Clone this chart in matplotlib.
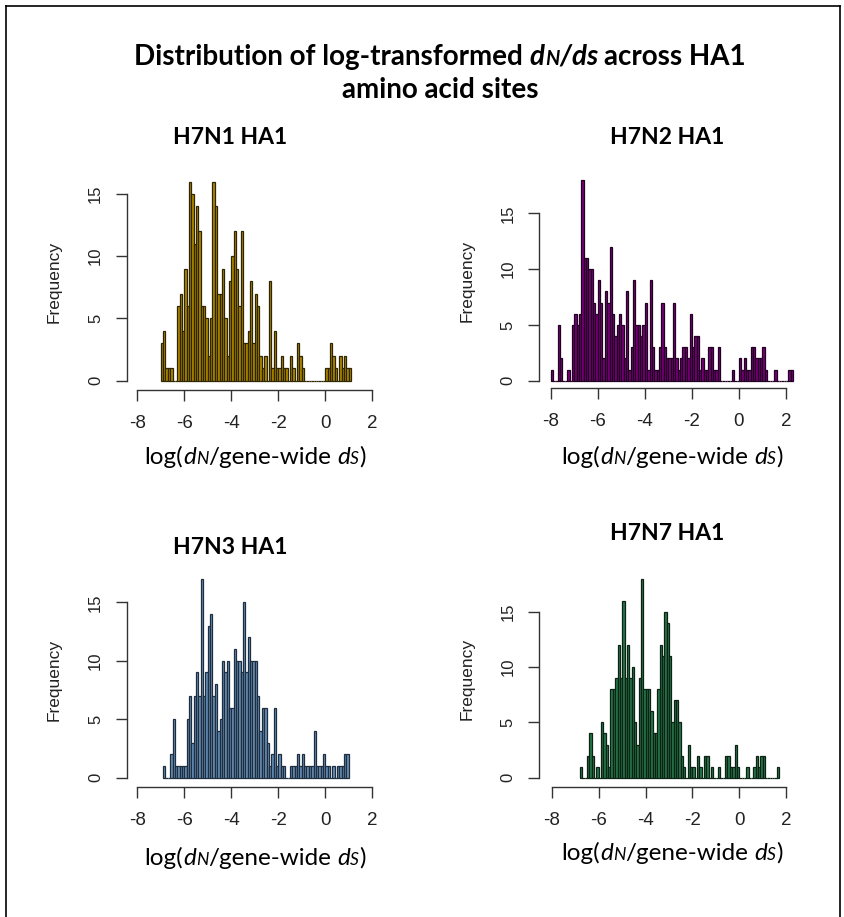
import numpy as np
import matplotlib
matplotlib.use("Agg")
import matplotlib.pyplot as plt
from matplotlib.lines import Line2D
from matplotlib.offsetbox import HPacker, TextArea, DrawingArea, AnnotationBbox

W, H = 845, 917

# bin width of the histograms (log units)
BIN = 0.1

# counts per bin
h7n1_start = -7.0
h7n1_counts = [3, 4, 1, 1, 1, 0, 0, 6, 7, 4,
               9, 6, 16, 15, 11, 14, 12, 6, 6, 5,
               2, 5, 16, 14, 7, 7, 9, 5, 2, 8,
               10, 12, 9, 6, 12, 3, 3, 4, 8, 3,
               7, 6, 2, 1, 2, 0, 8, 1, 4, 1,
               1, 2, 1, 1, 0, 2, 1, 0, 3, 2,
               1, 0, 0, 0, 0, 0, 0, 0, 0, 0,
               1, 1, 3, 2, 1, 0, 2, 1, 2, 1,
               1]

h7n2_start = -8.0
h7n2_counts = [1, 0, 0, 5, 2, 0, 0, 1, 0, 5, 6, 5, 6,
               18, 11, 11, 10, 10, 7, 6, 9, 7, 2, 8, 7, 12,
               6, 4, 5, 6, 5, 2, 8, 1, 3, 9, 5, 5, 4, 5, 7, 1, 9, 3, 1, 1, 3,
               7, 3, 2, 2, 2, 7, 2, 1, 2, 3, 3, 2, 6, 3, 4, 4, 1, 2, 1, 1, 3, 3, 1, 1, 3, 0,
               0, 0, 0, 0, 1, 0, 0, 2, 1, 2, 1, 1, 3, 3, 2, 2, 2, 3, 1, 0, 0, 0, 1,
               0, 0, 0, 0, 0, 1, 1]

h7n3_start = -6.9
h7n3_counts = [1, 0, 0, 2, 5, 1, 1, 1, 1, 1,
               5, 7, 3, 7, 9, 7, 17, 7, 9, 13,
               14, 7, 8, 4, 5, 10, 9, 10, 6, 6,
               11, 10, 10, 9, 15, 9, 12, 10, 10, 10,
               7, 4, 6, 6, 3, 1, 2, 6, 1, 2,
               1, 1, 0, 0, 1, 1, 1, 2, 1, 2,
               1, 1, 1, 1, 4, 1, 1, 1, 2, 1,
               1, 0, 1, 0, 1, 1, 1, 2, 2]

h7n7_start = -6.8
h7n7_counts = [1, 0, 0, 2, 4, 2, 0, 1, 0, 5,
               4, 3, 1, 8, 8, 9, 12, 9, 16, 9,
               12, 9, 10, 5, 3, 9, 18, 8, 8, 8,
               6, 4, 4, 8, 12, 11, 15, 14, 11, 5,
               7, 7, 5, 2, 1, 0, 3, 1, 1, 0,
               2, 1, 0, 2, 2, 0, 1, 0, 0, 1,
               0, 0, 2, 2, 1, 1, 3, 1, 0, 0,
               0, 1, 0, 0, 1, 2, 1, 2, 2, 0,
               0, 0, 0, 0, 1]

titles = ["H7N1 HA1", "H7N2 HA1", "H7N3 HA1", "H7N7 HA1"]
x_ticks = [-8, -6, -4, -2, 0, 2]
y_ticks = [0, 5, 10, 15]

# panel geometry in reference pixels:
# x of -8, x of 2, y of 0, y of 15, y-axis x, x-axis y
geom = [
    (137.3, 372.3, 380.7, 194.0, 126.7, 390.0),
    (550.7, 786.0, 380.7, 213.3, 539.3, 388.3),
    (137.3, 372.3, 777.7, 602.3, 126.7, 787.0),
    (552.0, 786.0, 777.7, 611.7, 539.3, 787.0),
]
title_pos = [(230, 137), (667, 137), (230, 548), (667, 533)]
xlab_pos = [(255, 457), (672, 457), (255, 858), (672, 853)]

faces = ["#b08800", "#7a007a", "#6890b8", "#27784a"]
edges = ["#2e2600", "#200020", "#1e2e3e", "#0c2214"]

sans = "Liberation Sans"
cal = "Lato"

fig = plt.figure(figsize=(W / 100, H / 100), dpi=100)


def rich(parts, size, weight="normal"):
    # parts: list of (text, italic, scale); None = a word space
    kids = []
    for p in parts:
        if p is None:
            kids.append(DrawingArea(size * 0.24, 1))
            continue
        txt, it, sc = p
        kids.append(TextArea(txt, textprops=dict(
            family=cal, size=size * sc, weight=weight,
            style="italic" if it else "normal", color="black")))
    return HPacker(children=kids, align="baseline", pad=0, sep=0)


def put(box, x, y):
    ab = AnnotationBbox(box, (x / W, 1 - y / H), xycoords="figure fraction",
                        frameon=False, box_alignment=(0.5, 0.5), pad=0)
    fig.add_artist(ab)


sets = [(h7n1_start, h7n1_counts), (h7n2_start, h7n2_counts),
        (h7n3_start, h7n3_counts), (h7n7_start, h7n7_counts)]

for k, (start, counts) in enumerate(sets):
    xm8, x2, y0, y15, sx_px, sy_px = geom[k]
    sx = (x2 - xm8) / 10
    sy = (y0 - y15) / 15
    right = x2 + 14
    top = y0 - (max(counts) + 0.6) * sy
    ax = fig.add_axes([sx_px / W, 1 - sy_px / H, (right - sx_px) / W, (sy_px - top) / H])
    ax.set_xlim(-8 + (sx_px - xm8) / sx, -8 + (right - xm8) / sx)
    ax.set_ylim((y0 - sy_px) / sy, (y0 - top) / sy)

    left_edges = start + BIN * np.arange(len(counts))
    ax.bar(left_edges, counts, width=BIN, align="edge",
           color=faces[k], edgecolor=edges[k], linewidth=0.9)

    for s in ["top", "right"]:
        ax.spines[s].set_visible(False)
    ax.spines["left"].set_bounds(0, 15)
    ax.spines["bottom"].set_bounds(-8, 2)
    for s in ["left", "bottom"]:
        ax.spines[s].set_color("#333333")
        ax.spines[s].set_linewidth(1.0)
    ax.set_xticks(x_ticks)
    ax.set_yticks(y_ticks)
    ax.set_xticklabels([str(v) for v in x_ticks], family=sans, fontsize=13.5)
    ax.set_yticklabels([str(v) for v in y_ticks], family=sans, fontsize=12,
                       rotation=90, va="center")
    ax.tick_params(axis="both", length=8, width=1.0, color="#333333",
                   labelcolor="#222222")
    ax.tick_params(axis="x", pad=10)
    ax.tick_params(axis="y", pad=9)
    ax.set_ylabel("Frequency", family=sans, fontsize=12.5, color="#222222",
                  labelpad=19)
    ax.patch.set_visible(False)

    tx, ty = title_pos[k]
    fig.text(tx / W, 1 - ty / H, titles[k], family=cal, weight="bold",
             fontsize=16.5, ha="center", va="center")

    lx, ly = xlab_pos[k]
    put(rich([("log(", False, 1), ("d", True, 1), ("N", True, 0.72),
              ("/gene-wide", False, 1), None, ("d", True, 1), ("S", True, 0.72),
              (")", False, 1)], 17.5), lx, ly)

# figure title, two lines
put(rich([("Distribution of log-transformed", False, 1), None,
          ("d", True, 1), ("N", True, 0.72), ("/", True, 1), ("d", True, 1),
          ("s", True, 1), None, ("across HA1", False, 1)], 20, "bold"), 440, 57)
put(rich([("amino acid sites", False, 1)], 20, "bold"), 440, 90)

# frame around the picture
fig.add_artist(Line2D([6 / W, 6 / W], [0, 1 - 6 / H], transform=fig.transFigure,
                      color="black", lw=1.2))
fig.add_artist(Line2D([6 / W, 840 / W], [1 - 6 / H, 1 - 6 / H], transform=fig.transFigure,
                      color="black", lw=1.2))
fig.add_artist(Line2D([840 / W, 840 / W], [1 - 6 / H, 0], transform=fig.transFigure,
                      color="black", lw=1.2))

fig.savefig("out.png", dpi=100)
